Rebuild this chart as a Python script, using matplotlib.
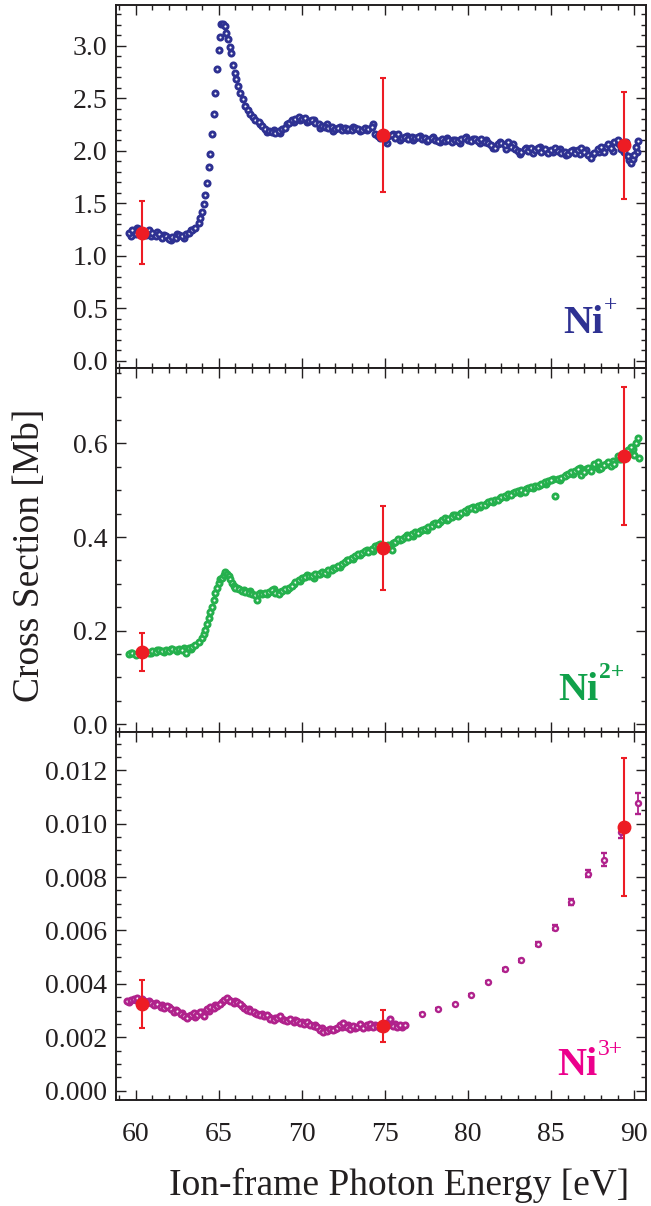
import matplotlib
matplotlib.use("Agg")
import matplotlib.pyplot as plt
from matplotlib.ticker import MultipleLocator
import numpy as np

plt.rcParams['font.family'] = ['Liberation Serif', 'DejaVu Serif']

# ---- Ni+ (top) ----
e_ni1 = [59.6, 59.8, 60.0, 60.2, 60.4, 60.6, 60.8, 61.0, 61.2, 61.4, 61.6, 61.8, 62.0, 62.2, 62.4,
         62.6, 62.8, 63.0, 63.2, 63.4, 63.6, 63.8, 63.9, 64.0, 64.1, 64.2, 64.3, 64.4, 64.5, 64.6,
         64.7, 64.8, 64.9, 65.0, 65.05, 65.15, 65.25, 65.35, 65.45, 65.55, 65.65, 65.75, 65.85,
         65.95, 66.05, 66.15, 66.3, 66.45, 66.6, 66.75, 66.9, 67.05, 67.2, 67.4, 67.6, 67.8, 68.0,
         68.2, 68.4, 68.6, 68.8, 69.0, 69.2, 69.4, 69.6, 69.8, 70.0, 70.2, 70.4, 70.6, 70.8, 71.0,
         71.2, 71.4, 71.6, 71.8, 72.0, 72.2, 72.4, 72.6, 72.8, 73.0, 73.2, 73.4, 73.6, 73.8, 74.0,
         74.2, 74.4, 74.6, 74.8, 75.0, 75.2, 75.4, 75.6, 75.8, 76.0, 76.2, 76.4, 76.6, 76.8, 77.0,
         77.2, 77.4, 77.6, 77.8, 78.0, 78.2, 78.4, 78.6, 78.8, 79.0, 79.2, 79.4, 79.6, 79.8, 80.0,
         80.2, 80.4, 80.6, 80.8, 81.0, 81.2, 81.4, 81.6, 81.8, 82.0, 82.2, 82.4, 82.6, 82.8, 83.0,
         83.2, 83.4, 83.6, 83.8, 84.0, 84.2, 84.4, 84.6, 84.8, 85.0, 85.2, 85.4, 85.6, 85.8, 86.0,
         86.2, 86.4, 86.6, 86.8, 87.0, 87.2, 87.4, 87.6, 87.8, 88.0, 88.2, 88.4, 88.6, 88.8, 89.0,
         89.2, 89.4, 89.6, 89.8, 89.9, 90.0, 90.1, 90.2]
cs_ni1 = [1.22, 1.24, 1.21, 1.25, 1.23, 1.20, 1.24, 1.22, 1.19, 1.21, 1.17, 1.19, 1.16, 1.18, 1.17,
          1.20, 1.19, 1.21, 1.22, 1.24, 1.26, 1.31, 1.36, 1.42, 1.49, 1.58, 1.69, 1.84, 1.97, 2.16,
          2.35, 2.55, 2.78, 2.96, 3.08, 3.21, 3.21, 3.19, 3.12, 3.06, 2.99, 2.93, 2.82,
          2.74, 2.68, 2.62, 2.55, 2.49, 2.43, 2.39, 2.35, 2.32, 2.29, 2.27, 2.24, 2.21, 2.19,
          2.18, 2.17, 2.19, 2.21, 2.22, 2.26, 2.29, 2.30, 2.32, 2.30, 2.31, 2.28, 2.29, 2.26, 2.25,
          2.24, 2.23, 2.22, 2.23, 2.21, 2.22, 2.20, 2.22, 2.21, 2.20, 2.22, 2.21, 2.20, 2.22, 2.21,
          2.23, 2.16, 2.14, 2.15, 2.10, 2.14, 2.15, 2.12, 2.16, 2.12, 2.13, 2.11, 2.13, 2.12, 2.13,
          2.11, 2.12, 2.10, 2.12, 2.10, 2.09, 2.11, 2.09, 2.10, 2.08, 2.10, 2.09, 2.11, 2.12, 2.10,
          2.09, 2.11, 2.09, 2.11, 2.08, 2.07, 2.05, 2.03, 2.06, 2.07, 2.05, 2.08, 2.04, 2.02, 2.00,
          1.99, 2.02, 2.00, 2.03, 2.01, 2.03, 1.99, 2.02, 1.98, 2.01, 2.03, 2.00, 1.98, 1.99, 1.97,
          2.00, 1.98, 2.01, 2.03, 1.99, 1.96, 1.93, 1.98, 2.02, 2.04, 1.99, 2.06, 2.03, 2.08, 2.10,
          2.02, 1.99, 1.95, 1.88, 1.92, 1.96, 2.04, 2.09]
# overlapping repeat scan (flat regions)
e_ni1_b = [59.7, 60.1, 60.5, 60.9, 61.3, 61.7, 62.1, 62.5, 62.9, 63.3, 67.5, 67.9, 68.3, 68.7,
           69.1, 69.5, 69.9, 70.3, 70.7, 71.1, 71.5, 71.9, 72.3, 72.7, 73.1, 73.5, 73.9, 74.3,
           74.7, 75.1, 75.5, 75.9, 76.3, 76.7, 77.1, 77.5, 77.9, 78.3, 78.7, 79.1, 79.5, 79.9,
           80.3, 80.7, 81.1, 81.5, 81.9, 82.3, 82.7, 83.1, 83.5, 83.9, 84.3, 84.7, 85.1, 85.5,
           85.9, 86.3, 86.7, 87.1, 87.5, 87.9, 88.3, 88.7, 89.1, 89.5, 89.7, 90.15]
cs_ni1_b = [1.19, 1.26, 1.21, 1.19, 1.23, 1.20, 1.15, 1.21, 1.17, 1.24, 2.25, 2.18, 2.20, 2.17,
            2.25, 2.27, 2.29, 2.27, 2.29, 2.22, 2.25, 2.19, 2.23, 2.20, 2.23, 2.19, 2.20, 2.25,
            2.12, 2.07, 2.16, 2.10, 2.14, 2.10, 2.14, 2.09, 2.13, 2.08, 2.12, 2.10, 2.07, 2.13,
            2.11, 2.07, 2.10, 2.03, 2.08, 2.02, 2.06, 1.97, 2.03, 1.98, 2.04, 2.00, 1.99, 2.02,
            1.96, 2.01, 1.97, 2.01, 1.97, 1.99, 2.04, 2.00, 2.06, 2.08, 1.91, 1.99]

# ---- Ni2+ (middle) ----
e_ni2 = [59.6, 59.8, 60.0, 60.2, 60.4, 60.6, 60.8, 61.0, 61.2, 61.4, 61.6, 61.8, 62.0, 62.2, 62.4,
         62.6, 62.8, 63.0, 63.2, 63.4, 63.6, 63.8, 64.0, 64.1, 64.2, 64.3, 64.4, 64.5, 64.6, 64.7,
         64.8, 64.9, 65.0, 65.1, 65.2, 65.3, 65.4, 65.5, 65.6, 65.7, 65.8, 65.9, 66.0, 66.2, 66.4,
         66.6, 66.8, 67.0, 67.2, 67.3, 67.4, 67.6, 67.8, 68.0, 68.2, 68.4, 68.6, 68.8, 69.0, 69.2,
         69.4, 69.6, 69.8, 70.0, 70.2, 70.4, 70.6, 70.8, 71.0, 71.2, 71.4, 71.6, 71.8, 72.0, 72.2,
         72.4, 72.6, 72.8, 73.0, 73.2, 73.4, 73.6, 73.8, 74.0, 74.2, 74.4, 74.6, 74.8, 75.0, 75.2,
         75.4, 75.6, 75.8, 76.0, 76.2, 76.4, 76.6, 76.8, 77.0, 77.2, 77.4, 77.6, 77.8, 78.0, 78.2,
         78.4, 78.6, 78.8, 79.0, 79.2, 79.4, 79.6, 79.8, 80.0, 80.2, 80.4, 80.6, 80.8, 81.0, 81.2,
         81.4, 81.6, 81.8, 82.0, 82.2, 82.4, 82.6, 82.8, 83.0, 83.2, 83.4, 83.6, 83.8, 84.0, 84.2,
         84.4, 84.6, 84.8, 85.0, 85.2, 85.4, 85.6, 85.8, 86.0, 86.2, 86.4, 86.6, 86.8, 87.0, 87.2,
         87.4, 87.6, 87.8, 88.0, 88.2, 88.4, 88.6, 88.8, 89.0, 89.2, 89.4, 89.6, 89.8, 90.0, 90.1,
         90.2, 90.3]
cs_ni2 = [0.150, 0.152, 0.149, 0.154, 0.151, 0.155, 0.153, 0.157, 0.155, 0.158, 0.156, 0.159, 0.157,
          0.160, 0.158, 0.161, 0.159, 0.152, 0.162, 0.165, 0.170, 0.176, 0.184, 0.192, 0.201, 0.214,
          0.228, 0.240, 0.251, 0.265, 0.280, 0.292, 0.302, 0.311, 0.313, 0.318, 0.325, 0.322, 0.316,
          0.311, 0.302, 0.296, 0.291, 0.288, 0.285, 0.283, 0.280, 0.279, 0.276, 0.266, 0.278, 0.279,
          0.281, 0.283, 0.286, 0.281, 0.278, 0.284, 0.288, 0.292, 0.296, 0.303, 0.309, 0.312, 0.314,
          0.317, 0.316, 0.321, 0.320, 0.325, 0.324, 0.329, 0.330, 0.334, 0.338, 0.342, 0.347, 0.352,
          0.356, 0.359, 0.363, 0.366, 0.370, 0.368, 0.374, 0.380, 0.382, 0.378, 0.380, 0.384, 0.372,
          0.390, 0.396, 0.395, 0.401, 0.399, 0.406, 0.410, 0.409, 0.415, 0.418, 0.421, 0.424, 0.429,
          0.427, 0.436, 0.441, 0.439, 0.443, 0.447, 0.445, 0.452, 0.456, 0.459, 0.462, 0.460, 0.466,
          0.469, 0.468, 0.474, 0.477, 0.480, 0.479, 0.485, 0.488, 0.492, 0.490, 0.496, 0.498, 0.501,
          0.497, 0.504, 0.507, 0.510, 0.508, 0.514, 0.517, 0.520, 0.522, 0.487, 0.524, 0.527, 0.530,
          0.534, 0.538, 0.541, 0.545, 0.532, 0.538, 0.548, 0.541, 0.555, 0.561, 0.548, 0.553, 0.560,
          0.551, 0.556, 0.572, 0.567, 0.578, 0.585, 0.592, 0.576, 0.600, 0.611, 0.569]
e_ni2_b = [59.7, 60.1, 60.5, 60.9, 61.3, 61.7, 62.1, 62.5, 62.9, 63.3, 66.1, 66.5, 66.9, 67.5,
           67.9, 68.3, 68.7, 69.1, 69.5, 69.9, 70.3, 70.7, 71.1, 71.5, 71.9, 72.3, 72.7, 73.1,
           73.5, 73.9, 74.3, 74.7, 75.1, 75.5, 75.9, 76.3, 76.7, 77.1, 77.5, 77.9, 78.3, 78.7,
           79.1, 79.5, 79.9, 80.3, 80.7, 81.1, 81.5, 81.9, 82.3, 82.7, 83.1, 83.5, 83.9, 84.3,
           84.7, 85.1, 85.5, 85.9, 86.3, 86.7, 87.1, 87.5, 87.9, 88.3, 88.7, 89.1, 89.5, 89.9]
cs_ni2_b = [0.153, 0.150, 0.156, 0.152, 0.158, 0.154, 0.161, 0.156, 0.163, 0.160, 0.292, 0.286,
            0.284, 0.281, 0.278, 0.290, 0.282, 0.286, 0.300, 0.306, 0.318, 0.313, 0.322, 0.320,
            0.333, 0.336, 0.350, 0.354, 0.361, 0.373, 0.371, 0.385, 0.377, 0.388, 0.393, 0.404,
            0.403, 0.413, 0.414, 0.427, 0.432, 0.437, 0.446, 0.449, 0.454, 0.464, 0.464, 0.471,
            0.474, 0.483, 0.485, 0.494, 0.495, 0.503, 0.504, 0.512, 0.514, 0.523, 0.521, 0.533,
            0.535, 0.548, 0.545, 0.550, 0.545, 0.556, 0.562, 0.566, 0.571, 0.588]

# ---- Ni3+ (bottom), dense scan, units of 1e-3 Mb ----
e_ni3 = [59.5, 59.7, 59.9, 60.1, 60.3, 60.5, 60.7, 60.9, 61.1, 61.3, 61.5, 61.7, 61.9, 62.1, 62.3,
         62.5, 62.7, 62.9, 63.1, 63.3, 63.5, 63.7, 63.9, 64.1, 64.3, 64.5, 64.7, 64.9, 65.1, 65.3,
         65.5, 65.7, 65.9, 66.1, 66.3, 66.5, 66.7, 66.9, 67.1, 67.3, 67.5, 67.7, 67.9, 68.1, 68.3,
         68.5, 68.7, 68.9, 69.1, 69.3, 69.5, 69.7, 69.9, 70.1, 70.3, 70.5, 70.7, 70.9, 71.1, 71.3,
         71.5, 71.7, 71.9, 72.1, 72.3, 72.5, 72.7, 72.9, 73.1, 73.3, 73.5, 73.7, 73.9, 74.1, 74.3,
         74.5, 74.7, 74.9, 75.1, 75.3, 75.5, 75.7, 75.9, 76.2]
cs_ni3 = [3.37, 3.40, 3.44, 3.46, 3.38, 3.35, 3.31, 3.28, 3.22, 3.25, 3.15, 3.10, 3.18, 3.05, 2.96,
          3.00, 2.88, 2.80, 2.73, 2.82, 2.90, 2.85, 2.93, 2.80, 3.05, 3.12, 3.08, 3.18, 3.25, 3.38,
          3.46, 3.36, 3.30, 3.34, 3.26, 3.08, 3.02, 2.98, 2.94, 2.88, 2.84, 2.78, 2.82, 2.70, 2.64,
          2.72, 2.78, 2.65, 2.60, 2.68, 2.58, 2.62, 2.54, 2.50, 2.56, 2.45, 2.42, 2.38, 2.28, 2.18,
          2.22, 2.30, 2.26, 2.36, 2.45, 2.52, 2.40, 2.32, 2.44, 2.38, 2.48, 2.35, 2.46, 2.50, 2.40,
          2.44, 2.36, 2.48, 2.55, 2.70, 2.42, 2.38, 2.45, 2.47]
e_ni3_b = [59.6, 60.0, 60.4, 60.8, 61.2, 61.6, 62.0, 62.4, 62.8, 63.2, 63.6, 64.0, 64.4, 64.8,
           65.2, 65.6, 66.0, 66.4, 66.8, 67.2, 67.6, 68.0, 68.4, 68.8, 69.2, 69.6, 70.0, 70.4,
           70.8, 71.2, 71.6, 72.0, 72.4, 72.8, 73.2, 73.6, 74.0, 74.4, 74.8, 75.2, 75.6, 76.0]
cs_ni3_b = [3.33, 3.38, 3.42, 3.36, 3.28, 3.20, 3.12, 3.04, 2.92, 2.78, 2.76, 2.95, 2.98, 3.22,
            3.32, 3.40, 3.36, 3.18, 3.05, 2.92, 2.88, 2.76, 2.74, 2.70, 2.63, 2.66, 2.58, 2.50,
            2.46, 2.35, 2.26, 2.32, 2.38, 2.46, 2.36, 2.42, 2.38, 2.47, 2.40, 2.47, 2.50, 2.40]

# Ni3+ coarse scan with statistical errors (1e-3 Mb)
e_ni3_c = [77.2, 78.2, 79.2, 80.2, 81.2, 82.2, 83.2, 84.2, 85.2, 86.2, 87.2, 88.2, 89.2, 90.2]
cs_ni3_c = [2.89, 3.05, 3.23, 3.57, 4.07, 4.55, 4.88, 5.49, 6.11, 7.07, 8.13, 8.65, 9.68, 10.76]
err_ni3_c = [0.03, 0.03, 0.03, 0.04, 0.04, 0.05, 0.05, 0.07, 0.09, 0.11, 0.14, 0.25, 0.20, 0.39]

# ---- absolute measurements (red) ----
e_abs = [60.4, 74.9, 89.4]
abs_ni1 = [1.22, 2.15, 2.05]
abs_ni1_err = [0.30, 0.54, 0.51]
abs_ni2 = [0.155, 0.376, 0.573]
abs_ni2_err = [0.041, 0.090, 0.147]
abs_ni3 = [3.25, 2.42, 9.89]      # 1e-3 Mb
abs_ni3_err = [0.90, 0.60, 2.58]  # 1e-3 Mb

yt_ni1 = [0.0, 0.5, 1.0, 1.5, 2.0, 2.5, 3.0]
yl_ni1 = ['0.0', '0.5', '1.0', '1.5', '2.0', '2.5', '3.0']
yt_ni2 = [0.0, 0.2, 0.4, 0.6]
yl_ni2 = ['0.0', '0.2', '0.4', '0.6']
yt_ni3 = [0.0, 0.002, 0.004, 0.006, 0.008, 0.010, 0.012]
yl_ni3 = ['0.000', '0.002', '0.004', '0.006', '0.008', '0.010', '0.012']
xt = [60, 65, 70, 75, 80, 85, 90]
xl = ['60', '65', '70', '75', '80', '85', '90']

BLUE = '#2E3192'
GREEN = '#25B04D'
GREEN_LBL = '#10A14A'
PURPLE = '#B0228C'
PINK = '#EC008C'
RED = '#ED1C24'
INK = '#231F20'

W, H = 651, 1206
fig = plt.figure(figsize=(W / 100, H / 100), dpi=100)


def add_panel(top, bottom):
    left, right = 115.7, 646.0
    return fig.add_axes([left / W, 1 - bottom / H, (right - left) / W, (bottom - top) / H])


def style(ax, yt, yl, ymin_loc, show_x):
    ax.set_xlim(58.8, 90.7)
    ax.set_xticks(xt)
    ax.xaxis.set_minor_locator(MultipleLocator(1))
    ax.set_yticks(yt)
    ax.set_yticklabels(yl)
    ax.yaxis.set_minor_locator(MultipleLocator(ymin_loc))
    ax.tick_params(which='both', direction='in', top=True, right=True, color=INK, width=1.0,
                   labelsize=20, labelcolor=INK)
    ax.tick_params(which='major', length=7.5)
    ax.tick_params(which='minor', length=3.8)
    ax.tick_params(axis='y', pad=6)
    ax.tick_params(axis='x', pad=16)
    if show_x:
        ax.set_xticklabels(xl)
    else:
        ax.set_xticklabels([])
    for sp in ax.spines.values():
        sp.set_linewidth(1.4)
        sp.set_color(INK)


def scan(ax, x, y, color):
    ax.plot(x, y, 'o', ls='none', ms=3.7, mfc='white', mec=color, mew=2.1, zorder=2)


def absolute(ax, x, y, err):
    ax.errorbar(x, y, yerr=err, fmt='o', ms=9, color=RED, ecolor=RED, elinewidth=1.5,
                capsize=2.5, capthick=1.5, zorder=5)


def label(x, y, color, sup, sup_dy, sup_bold):
    fig.text(x / W, 1 - y / H, 'Ni', color=color, fontsize=29, fontweight='bold', va='baseline')
    fig.text((x + 41) / W, 1 - (y - sup_dy) / H, sup, color=color, fontsize=17,
             fontweight='bold' if sup_bold else 'normal', va='baseline')


ax1 = add_panel(5, 368)
scan(ax1, e_ni1_b, cs_ni1_b, BLUE)
scan(ax1, e_ni1, cs_ni1, BLUE)
absolute(ax1, e_abs, abs_ni1, abs_ni1_err)
ax1.set_ylim(-0.07, 3.388)
style(ax1, yt_ni1, yl_ni1, 0.1, False)

ax2 = add_panel(368, 732)
scan(ax2, e_ni2_b, cs_ni2_b, GREEN)
scan(ax2, e_ni2, cs_ni2, GREEN)
absolute(ax2, e_abs, abs_ni2, abs_ni2_err)
ax2.set_ylim(-0.0164, 0.761)
style(ax2, yt_ni2, yl_ni2, 0.05, False)

ax3 = add_panel(732, 1100)
scan(ax3, e_ni3_b, np.array(cs_ni3_b) * 1e-3, PURPLE)
scan(ax3, e_ni3, np.array(cs_ni3) * 1e-3, PURPLE)
ax3.errorbar(e_ni3_c, np.array(cs_ni3_c) * 1e-3, yerr=np.array(err_ni3_c) * 1e-3, fmt='o', ms=3.6,
             mfc='white', mec=PURPLE, mew=1.7, ecolor=PURPLE, elinewidth=1.3, capsize=2,
             capthick=1.3, zorder=3)
absolute(ax3, e_abs, np.array(abs_ni3) * 1e-3, np.array(abs_ni3_err) * 1e-3)
ax3.set_ylim(-0.000348, 0.013434)
style(ax3, yt_ni3, yl_ni3, 0.0005, True)

label(563, 333, BLUE, '+', 22, False)
label(558, 700, GREEN_LBL, '2+', 22, True)
label(557, 1075, PINK, '3+', 20, False)

fig.text(30 / W, 1 - 555 / H, 'Cross Section [Mb]', rotation=90, fontsize=27, color=INK,
         ha='center', va='center')
fig.text(399 / W, 1 - 1195 / H, 'Ion-frame Photon Energy [eV]', fontsize=27, color=INK,
         ha='center', va='baseline')

fig.savefig('out.png', dpi=100)
